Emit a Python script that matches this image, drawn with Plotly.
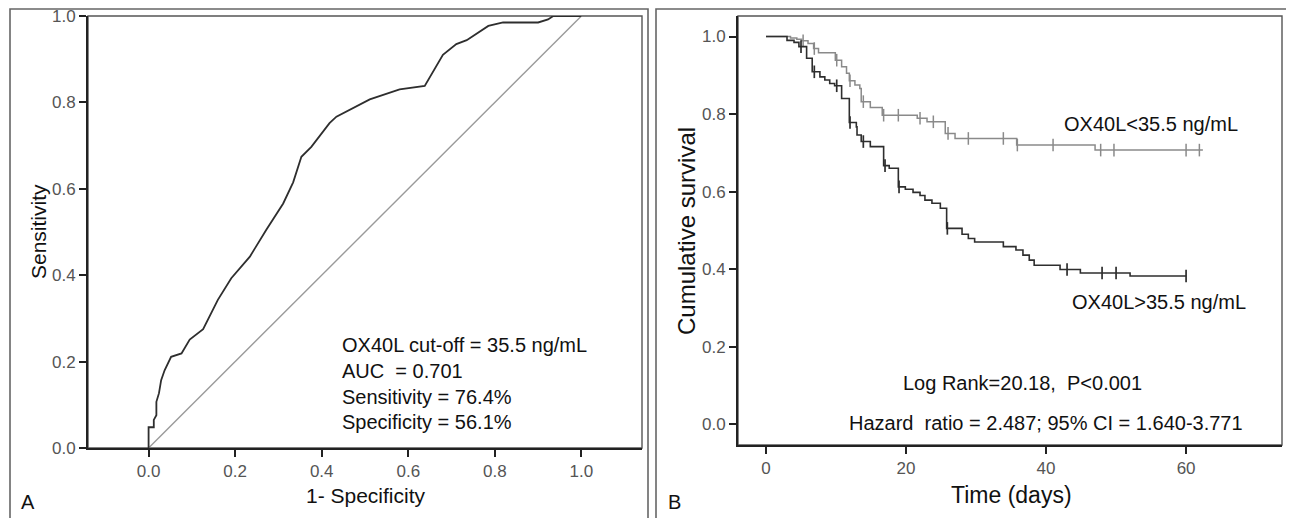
import plotly.graph_objects as go

# ---------------- Data ----------------
# ROC curve (1-specificity, sensitivity)
roc_fpr = [0.0, 0.0, 0.012, 0.012, 0.018, 0.018, 0.024, 0.029, 0.037, 0.052, 0.076, 0.095,
           0.126, 0.160, 0.191, 0.234, 0.272, 0.311, 0.334, 0.353, 0.376, 0.418, 0.434,
           0.449, 0.511, 0.580, 0.638, 0.680, 0.711, 0.735, 0.785, 0.819, 0.900, 0.923,
           0.935, 1.0]
roc_tpr = [0.0, 0.048, 0.048, 0.065, 0.076, 0.107, 0.127, 0.157, 0.180, 0.211, 0.219, 0.251,
           0.275, 0.343, 0.393, 0.443, 0.505, 0.566, 0.615, 0.674, 0.697, 0.752, 0.767,
           0.775, 0.807, 0.830, 0.838, 0.910, 0.935, 0.944, 0.977, 0.985, 0.985, 0.992,
           1.0, 1.0]
ref_line = [0.0, 1.0]
roc_ticks = [0.0, 0.2, 0.4, 0.6, 0.8, 1.0]
roc_ticktext = ["0.0", "0.2", "0.4", "0.6", "0.8", "1.0"]
roc_notes = ["OX40L cut-off = 35.5 ng/mL", "AUC  = 0.701",
             "Sensitivity = 76.4%", "Specificity = 56.1%"]

# Kaplan-Meier, OX40L > 35.5 ng/mL (dark)
high_t = [0, 3, 4, 4.7, 5.8, 6.6, 7.7, 8.4, 9.1, 9.8, 10.8, 11.9, 12.9, 13.0, 13.6, 14.9,
          16.8, 17.6, 18.9, 19.9, 21, 22, 22.7, 23.7, 24.9, 25.8, 28, 28.9, 29.8, 33.9,
          35.7, 36.7, 37.6, 38.3, 42, 44.9, 52, 60]
high_s = [1.0, 0.99, 0.985, 0.974, 0.944, 0.909, 0.896, 0.888, 0.879, 0.873, 0.84, 0.778,
          0.767, 0.746, 0.729, 0.716, 0.667, 0.66, 0.612, 0.606, 0.598, 0.59, 0.578, 0.57,
          0.557, 0.505, 0.49, 0.479, 0.47, 0.458, 0.449, 0.436, 0.423, 0.41, 0.399, 0.39,
          0.382, 0.382]
high_cens_t = [5.0, 6.9, 10.1, 12.0, 13.9, 17.0, 19.0, 25.9, 43.0, 48.0, 50.0, 60.0]
high_cens_s = [0.974, 0.909, 0.873, 0.778, 0.729, 0.667, 0.612, 0.505, 0.399, 0.39, 0.39, 0.382]

# Kaplan-Meier, OX40L < 35.5 ng/mL (light)
low_t = [0, 3.5, 4.4, 5.1, 6.0, 6.8, 7.5, 9.9, 10.8, 11.5, 11.9, 12.7, 13.4, 13.6, 14.9,
         16.6, 21.6, 23.0, 25.6, 27.0, 35.8, 47.0, 62.4]
low_s = [1.0, 0.996, 0.993, 0.989, 0.982, 0.969, 0.958, 0.939, 0.922, 0.905, 0.886, 0.875,
         0.866, 0.832, 0.817, 0.797, 0.789, 0.780, 0.75, 0.737, 0.72, 0.707, 0.707]
low_cens_t = [5.3, 6.9, 10.1, 12.0, 13.9, 16.8, 18.9, 22.0, 23.9, 26.0, 28.9, 33.9, 35.9,
              41.0, 47.8, 49.7, 60.0, 61.9]
low_cens_s = [0.989, 0.969, 0.939, 0.886, 0.832, 0.797, 0.797, 0.789, 0.780, 0.75, 0.737,
              0.737, 0.72, 0.72, 0.707, 0.707, 0.707, 0.707]
km_xticks = [0, 20, 40, 60]
km_yticks = [0.0, 0.2, 0.4, 0.6, 0.8, 1.0]
km_yticktext = ["0.0", "0.2", "0.4", "0.6", "0.8", "1.0"]

# ---------------- Figure ----------------
OFF = 8                      # page body margin in the browser
W, H = 1294 - OFF, 518 - OFF
FONT = "Liberation Sans, Arial, sans-serif"
DARK = "#2e2e2e"
LIGHT = "#8a8a8a"

fig = go.Figure()

# ROC
fig.add_trace(go.Scatter(x=ref_line, y=ref_line, mode="lines",
                         line=dict(color="#9a9a9a", width=1.4), xaxis="x", yaxis="y"))
fig.add_trace(go.Scatter(x=roc_fpr, y=roc_tpr, mode="lines",
                         line=dict(color=DARK, width=1.8), xaxis="x", yaxis="y"))

# KM
fig.add_trace(go.Scatter(x=low_t, y=low_s, mode="lines", line_shape="hv",
                         line=dict(color=LIGHT, width=1.5), xaxis="x2", yaxis="y2"))
fig.add_trace(go.Scatter(x=low_cens_t, y=low_cens_s, mode="markers",
                         marker=dict(symbol="line-ns", size=9,
                                     line=dict(color=LIGHT, width=1.5)),
                         xaxis="x2", yaxis="y2"))
fig.add_trace(go.Scatter(x=high_t, y=high_s, mode="lines", line_shape="hv",
                         line=dict(color=DARK, width=1.6), xaxis="x2", yaxis="y2"))
fig.add_trace(go.Scatter(x=high_cens_t, y=high_cens_s, mode="markers",
                         marker=dict(symbol="line-ns", size=9,
                                     line=dict(color=DARK, width=1.7)),
                         xaxis="x2", yaxis="y2"))

axis_common = dict(showgrid=False, zeroline=False, showline=True, linecolor="#222222",
                   linewidth=1.8, ticks="outside", ticklen=7, tickwidth=1.5,
                   tickcolor="#222222", automargin=False, ticklabeloverflow="allow",
                   tickfont=dict(family=FONT, size=17, color="#555555"))

def px_x(p):
    return (p - OFF) / W

def px_y(p):
    return 1 - (p - OFF) / H

fig.update_layout(
    template="none",
    width=W, height=H, margin=dict(l=0, r=0, t=0, b=0, pad=0, autoexpand=False),
    paper_bgcolor="white", plot_bgcolor="white", showlegend=False,
    font=dict(family=FONT, color="#222222"),
    xaxis=dict(domain=[px_x(88), px_x(642)], range=[-0.14, 1.14], anchor="y",
               tickvals=roc_ticks, ticktext=roc_ticktext, **axis_common),
    yaxis=dict(domain=[px_y(448), px_y(16)], range=[0, 1], anchor="x",
               tickvals=roc_ticks, ticktext=roc_ticktext, **axis_common),
    xaxis2=dict(domain=[px_x(738), px_x(1282)], range=[-4, 73.7], anchor="y2",
                tickvals=km_xticks, **axis_common),
    yaxis2=dict(domain=[px_y(445), px_y(16)], range=[-0.054, 1.053], anchor="x2",
                tickvals=km_yticks, ticktext=km_yticktext, **axis_common),
)

shapes = []
# plot-area frames
for xr, yr in (("x domain", "y domain"), ("x2 domain", "y2 domain")):
    shapes.append(dict(type="rect", xref=xr, yref=yr, x0=0, x1=1, y0=0, y1=1,
                       line=dict(color="#555555", width=1.4), layer="below"))
# outer panel frames
shapes.append(dict(type="rect", xref="paper", yref="paper", x0=px_x(10), x1=px_x(648),
                   y0=-0.02, y1=px_y(8) - 0.002, line=dict(color="#666666", width=1.6)))
shapes.append(dict(type="rect", xref="paper", yref="paper", x0=px_x(656), x1=1.02,
                   y0=-0.02, y1=px_y(8) - 0.002, line=dict(color="#666666", width=1.6)))
fig.update_layout(shapes=shapes)

ann = []
# ROC notes
for i, t in enumerate(roc_notes):
    ann.append(dict(text=t, xref="x", yref="y", x=0.442, y=0.238 - i * 0.0595,
                    xanchor="left", yanchor="middle", showarrow=False,
                    font=dict(family=FONT, size=20, color="#111111")))
# axis titles
ann.append(dict(text="Sensitivity", xref="paper", yref="paper", x=px_x(38), y=px_y(232),
                textangle=-90, showarrow=False, xanchor="center", yanchor="middle",
                font=dict(family=FONT, size=21, color="#111111")))
ann.append(dict(text="1- Specificity", xref="paper", yref="paper", x=px_x(366), y=px_y(495),
                showarrow=False, xanchor="center", yanchor="middle",
                font=dict(family=FONT, size=21, color="#111111")))
ann.append(dict(text="Cumulative survival", xref="paper", yref="paper", x=px_x(686),
                y=px_y(231), textangle=-90, showarrow=False, xanchor="center",
                yanchor="middle", font=dict(family=FONT, size=24, color="#111111")))
ann.append(dict(text="Time (days)", xref="paper", yref="paper", x=px_x(1011), y=px_y(495),
                showarrow=False, xanchor="center", yanchor="middle",
                font=dict(family=FONT, size=23, color="#111111")))
# panel letters
ann.append(dict(text="A", xref="paper", yref="paper", x=px_x(28), y=px_y(502),
                showarrow=False, xanchor="center", yanchor="middle",
                font=dict(family=FONT, size=20, color="#111111")))
ann.append(dict(text="B", xref="paper", yref="paper", x=px_x(674), y=px_y(502),
                showarrow=False, xanchor="center", yanchor="middle",
                font=dict(family=FONT, size=20, color="#111111")))
# KM notes
ann.append(dict(text="OX40L&lt;35.5 ng/mL", xref="x2", yref="y2", x=42.3, y=0.774,
                xanchor="left", yanchor="middle", showarrow=False,
                font=dict(family=FONT, size=20, color="#111111")))
ann.append(dict(text="OX40L&gt;35.5 ng/mL", xref="x2", yref="y2", x=43.4, y=0.315,
                xanchor="left", yanchor="middle", showarrow=False,
                font=dict(family=FONT, size=20, color="#111111")))
ann.append(dict(text="Log Rank=20.18,  P&lt;0.001", xref="x2", yref="y2", x=36.7, y=0.106,
                xanchor="center", yanchor="middle", showarrow=False,
                font=dict(family=FONT, size=20, color="#111111")))
ann.append(dict(text="Hazard  ratio = 2.487; 95% CI = 1.640-3.771", xref="x2", yref="y2",
                x=40.0, y=0.003, xanchor="center", yanchor="middle", showarrow=False,
                font=dict(family=FONT, size=20, color="#111111")))
fig.update_layout(annotations=ann)

fig.write_html("out.html")
